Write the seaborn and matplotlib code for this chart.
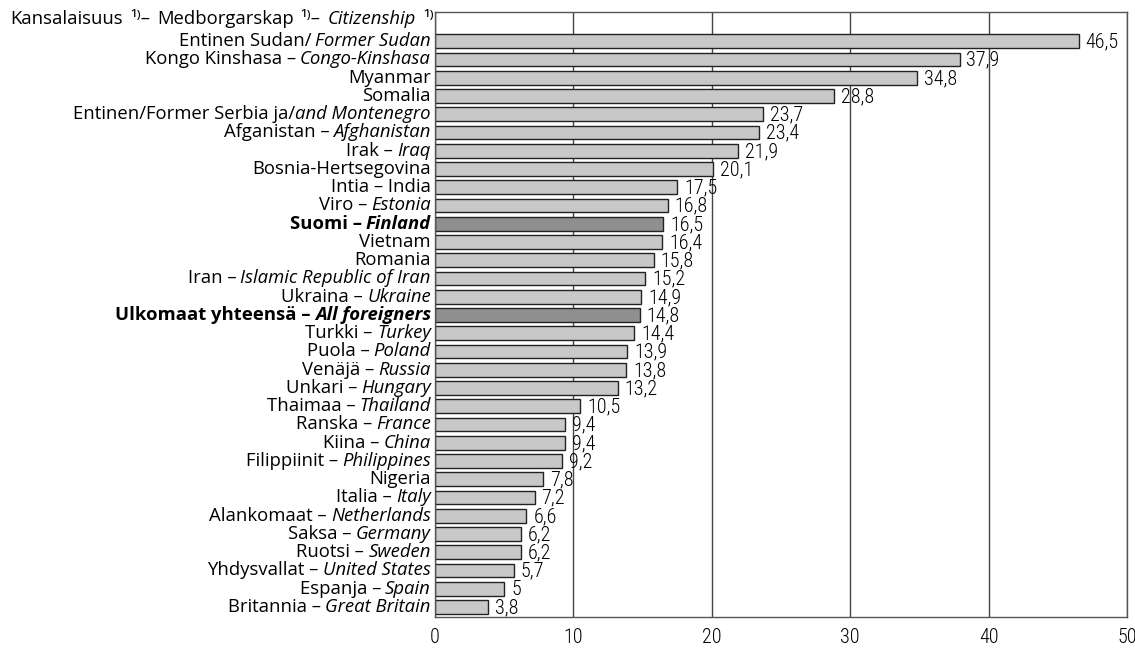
import numpy as np
import pandas as pd
import matplotlib
matplotlib.use("Agg")
import matplotlib.pyplot as plt
import seaborn as sns
from matplotlib.offsetbox import TextArea, HPacker, AnnotationBbox
from matplotlib import font_manager

# finnish / swedish part (upright) and english part (italic)
names_fi = ["Entinen Sudan/", "Kongo Kinshasa –", "Myanmar", "Somalia",
            "Entinen/Former Serbia ja/", "Afganistan –", "Irak –",
            "Bosnia-Hertsegovina", "Intia – India", "Viro –", "Suomi –",
            "Vietnam", "Romania", "Iran –", "Ukraina –", "Ulkomaat yhteensä –",
            "Turkki –", "Puola –", "Venäjä –", "Unkari –", "Thaimaa –",
            "Ranska –", "Kiina –", "Filippiinit –", "Nigeria", "Italia –",
            "Alankomaat –", "Saksa –", "Ruotsi –", "Yhdysvallat –",
            "Espanja –", "Britannia –"]
names_en = ["Former Sudan", "Congo-Kinshasa", "", "", "and Montenegro",
            "Afghanistan", "Iraq", "", "", "Estonia", "Finland", "", "",
            "Islamic Republic of Iran", "Ukraine", "All foreigners", "Turkey",
            "Poland", "Russia", "Hungary", "Thailand", "France", "China",
            "Philippines", "", "Italy", "Netherlands", "Germany", "Sweden",
            "United States", "Spain", "Great Britain"]
values = [46.5, 37.9, 34.8, 28.8, 23.7, 23.4, 21.9, 20.1, 17.5, 16.8, 16.5,
          16.4, 15.8, 15.2, 14.9, 14.8, 14.4, 13.9, 13.8, 13.2, 10.5, 9.4,
          9.4, 9.2, 7.8, 7.2, 6.6, 6.2, 6.2, 5.7, 5.0, 3.8]
highlight = ["Suomi –", "Ulkomaat yhteensä –"]
no_space = ["Entinen/Former Serbia ja/"]
ticks = [0, 10, 20, 30, 40, 50]

df = pd.DataFrame({"name": [a + " " + b for a, b in zip(names_fi, names_en)],
                   "value": values,
                   "hl": [n in highlight for n in names_fi]})

sns.set_style("white")
plt.rcParams["font.family"] = ["Open Sans", "DejaVu Sans"]

# condensed font for the numbers, if one is around
installed = {f.name for f in font_manager.fontManager.ttflist}
narrow = ["DejaVu Sans"]
for cand in ["Liberation Sans Narrow", "Roboto Condensed", "Open Sans Condensed"]:
    if cand in installed:
        narrow = [cand, "DejaVu Sans"]
        break
num_kw = dict(family=narrow, fontstretch="condensed", fontweight="light",
              color="black")

fig = plt.figure(figsize=(11.35, 6.49), dpi=100)
ax = fig.add_axes([435 / 1135, 1 - 617 / 649, 692 / 1135, 605 / 649])

sns.barplot(data=df, x="value", y="name", hue="hl", orient="h", dodge=False,
            palette={False: "#c8c8c8", True: "#8f8f8f"}, edgecolor="#222222",
            linewidth=1, width=0.76, legend=False, ax=ax)

ax.set_xlim(0, 50)
ax.set_ylim(31.55, -1.6)
ax.set_xticks(ticks)
ax.set_xticklabels([str(t) for t in ticks], fontsize=14.5, **num_kw)
ax.tick_params(axis="x", length=0, pad=8)
ax.set_yticks([])
ax.set_xlabel("")
ax.set_ylabel("")
ax.set_axisbelow(True)
ax.grid(axis="x", color="#444444", linewidth=1)
for s in ax.spines.values():
    s.set_color("#555555")
    s.set_linewidth(1)

fs = 13.3
for i, (fi, en, v) in enumerate(zip(names_fi, names_en, values)):
    bold = fi in highlight
    w = "bold" if bold else "normal"
    parts = [TextArea(fi, textprops=dict(fontsize=fs, fontweight=w, color="black"))]
    if en:
        parts.append(TextArea(en, textprops=dict(fontsize=fs, fontweight=w,
                                                 fontstyle="italic", color="black")))
    sep = 0 if fi in no_space else 3
    box = HPacker(children=parts, align="baseline", pad=0, sep=sep)
    ab = AnnotationBbox(box, (0, i), xycoords=ax.get_yaxis_transform(),
                        xybox=(-3, 0), boxcoords="offset points",
                        box_alignment=(1, 0.5), frameon=False, annotation_clip=False)
    ax.add_artist(ab)
    ax.text(v + 0.5, i + 0.05, f"{v:g}".replace(".", ","), va="center", ha="left",
            fontsize=14.5, **num_kw)

# header row
hdr = [("Kansalaisuus", {}), ("¹⁾–", {}), ("Medborgarskap", {}), ("¹⁾–", {}),
       ("Citizenship", {"fontstyle": "italic"}), ("¹⁾", {})]
parts = [TextArea(t, textprops=dict(fontsize=fs, color="black", **kw)) for t, kw in hdr]
box = HPacker(children=parts, align="baseline", pad=0, sep=5)
ab = AnnotationBbox(box, (0, -1.2), xycoords=ax.get_yaxis_transform(),
                    xybox=(-1, 0), boxcoords="offset points",
                    box_alignment=(1, 0.5), frameon=False, annotation_clip=False)
ax.add_artist(ab)

fig.savefig("out.png", dpi=100)
